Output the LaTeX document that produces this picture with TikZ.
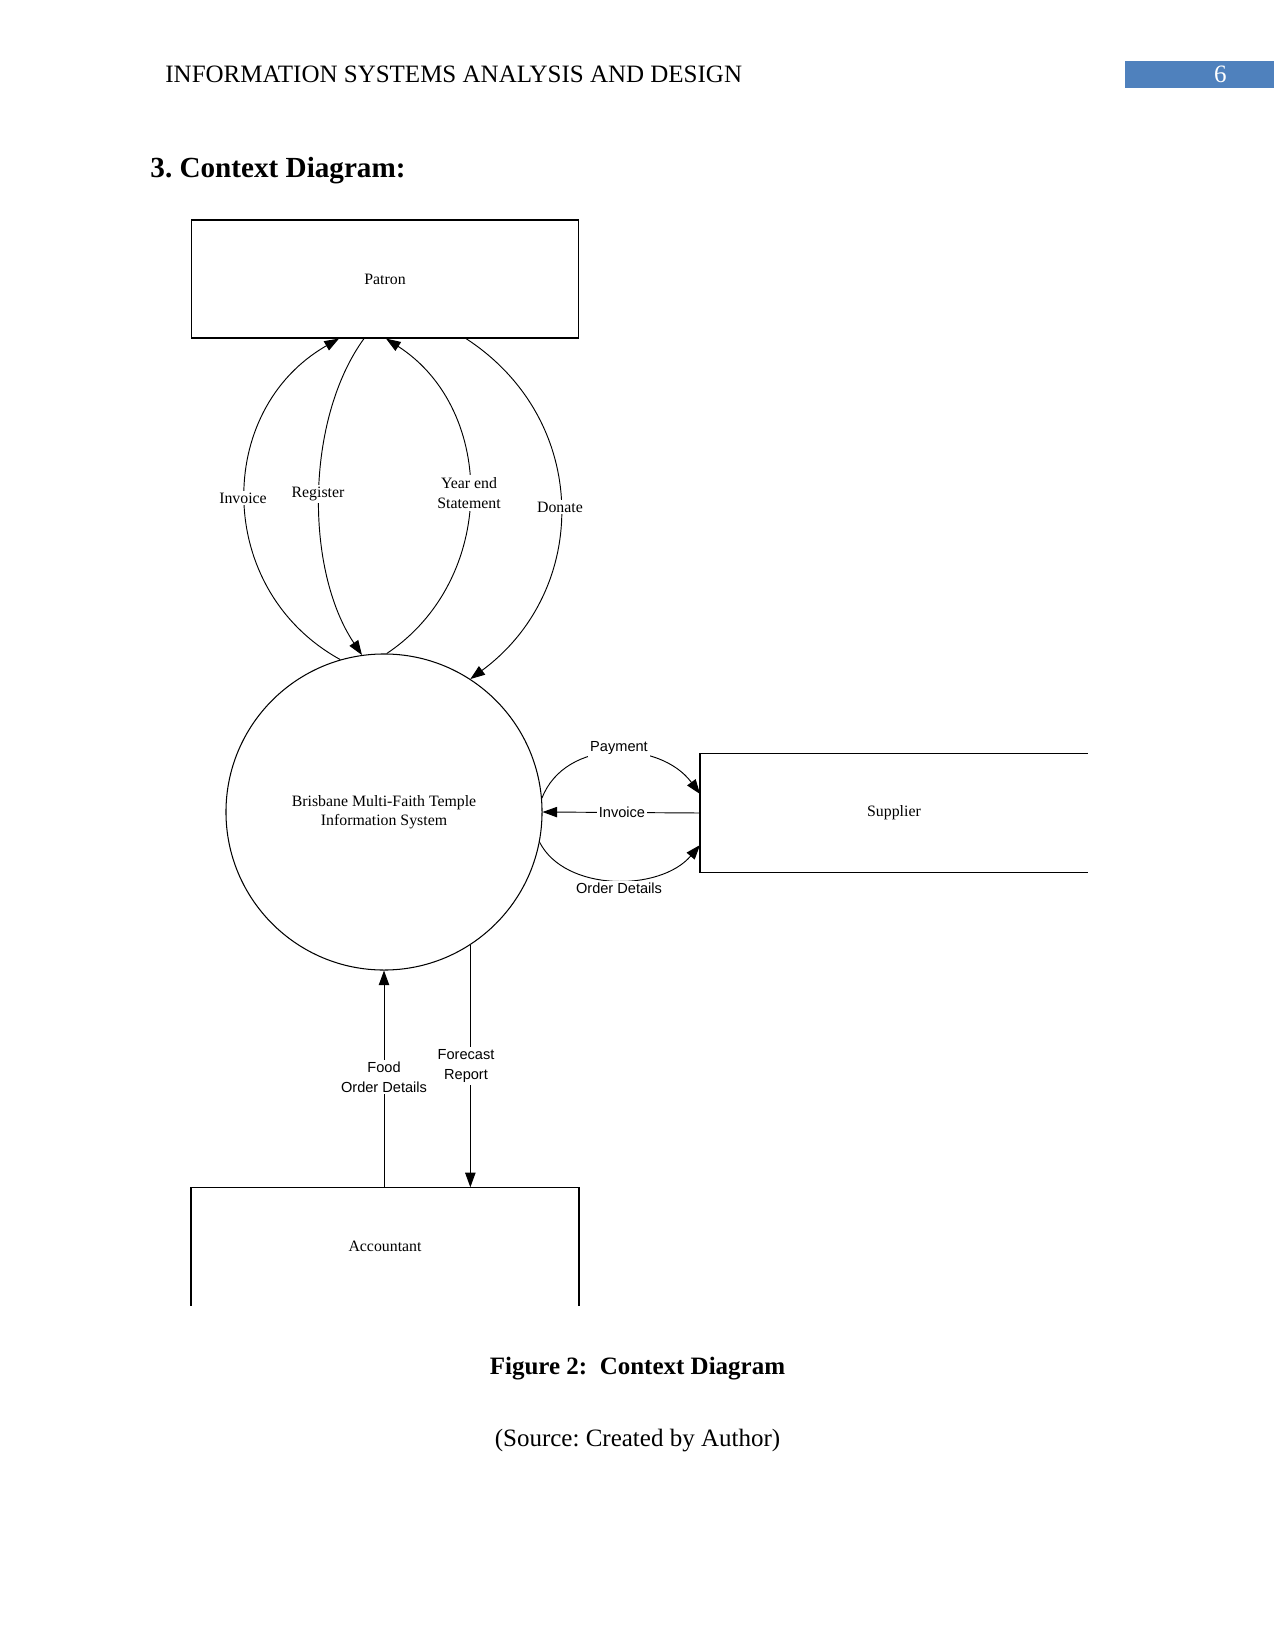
\documentclass[tikz,border=0pt]{standalone}
\usepackage{fontspec}
\setmainfont{Liberation Serif}
\setsansfont{Liberation Sans}
\usetikzlibrary{arrows.meta,calc}
\definecolor{hdrblue}{RGB}{79,129,189}
\frenchspacing
\begin{document}
\begin{tikzpicture}[x=0.48pt,y=-0.48pt,
  flow/.style={line width=0.45pt,-{Triangle[length=7pt,width=5pt]}},
  boxline/.style={line width=0.6pt},
  lbl/.style={font=\fontsize{7.6}{9.6}\selectfont,fill=white,inner sep=1pt,align=center},
  slbl/.style={font=\sffamily\fontsize{7}{9.6}\selectfont,fill=white,inner sep=1pt,align=center},
  entity/.style={rectangle,minimum width=185.8pt,minimum height=56.6pt,inner sep=0pt,font=\fontsize{7.6}{9.6}\selectfont}]
\useasboundingbox[fill=white] (0,0) rectangle (1275,1650);

% page header
\node[anchor=base west,font=\fontsize{12}{14}\selectfont,inner sep=0pt] (hdr) at (165,83) {INFORMATION SYSTEMS ANALYSIS AND DESIGN};
\node[fill=hdrblue,minimum width=71.5pt,minimum height=13pt,inner sep=0pt,text=white,font=\fontsize{12}{14}\selectfont] (pg) at (1199.5,74.5) {\hspace*{20pt}6};
\node[anchor=base west,font=\bfseries\fontsize{14}{16}\selectfont,inner sep=0pt] (head) at (150,178) {3. Context Diagram:};

% entities
\node[entity,draw,boxline] (patron) at (385,279) {Patron};
\node[circle,draw,line width=0.5pt,minimum size=151.7pt,inner sep=0pt,align=center,font=\fontsize{7.6}{9.2}\selectfont] (sys) at (384,812) {Brisbane Multi-Faith Temple\\Information System};
\node[entity] (supplier) at (894,813) {Supplier};
\draw[boxline] (supplier.north east) -- (supplier.north west) -- (supplier.south west) -- (supplier.south east);
\node[entity] (acc) at (385,1246.6) {Accountant};
\draw[boxline] (acc.south west) -- (acc.north west) -- (acc.north east) -- (acc.south east);

% patron <-> system
\coordinate (pInv) at ($(patron.south)+(-46,0)$);
\coordinate (pReg) at ($(patron.south)+(-21,0)$);
\coordinate (pYear) at ($(patron.south)+(1,0)$);
\coordinate (pDon) at ($(patron.south)+(81,0)$);
\draw[flow] (sys.106.6) .. controls (214,590) and (214,410) .. (pInv);
\draw[flow] (pReg) .. controls (305,420) and (305,570) .. (sys.98.9);
\draw[flow] (sys.89.3) .. controls (497,580) and (497,410) .. (pYear);
\draw[flow] (pDon) .. controls (591,420) and (591,590) .. (sys.57.9);
\node[lbl] (lInv) at (243,498) {Invoice};
\node[lbl] (lReg) at (318,494) {Register};
\node[lbl] (lYear) at (469,493) {Year end\\Statement};
\node[lbl] (lDon) at (560,507) {Donate};

% supplier <-> system
\coordinate (sPay) at ($(supplier.west)+(0,-19)$);
\coordinate (sOrd) at ($(supplier.west)+(0,32)$);
\draw[flow] (sys.5.8) .. controls (565,738) and (660,740) .. (sPay);
\draw[flow] (supplier.west) -- (sys.0);
\draw[flow] (sys.-11.2) .. controls (565,892) and (660,892) .. (sOrd);
\node[slbl] (lPay) at (619,748) {Payment};
\node[slbl] (lSInv) at (622,812) {Invoice};
\node[slbl] (lOrd) at (619,888) {Order Details};

% accountant <-> system
\draw[flow] (sys.south |- acc.north) -- (sys.south);
\draw[flow] (sys.-57.9) -- (sys.-57.9 |- acc.north);
\node[slbl] (lFood) at (384,1077) {Food\\Order Details};
\node[slbl] (lFore) at (466,1066) {Forecast\\Report};

% caption
\node[anchor=base,font=\bfseries\fontsize{12}{14}\selectfont,inner sep=0pt] (cap) at (637.5,1374) {Figure 2:\ \ Context Diagram};
\node[anchor=base,font=\fontsize{12}{14}\selectfont,inner sep=0pt] (src) at (637.5,1446) {(Source: Created by Author)};
\end{tikzpicture}
\end{document}
